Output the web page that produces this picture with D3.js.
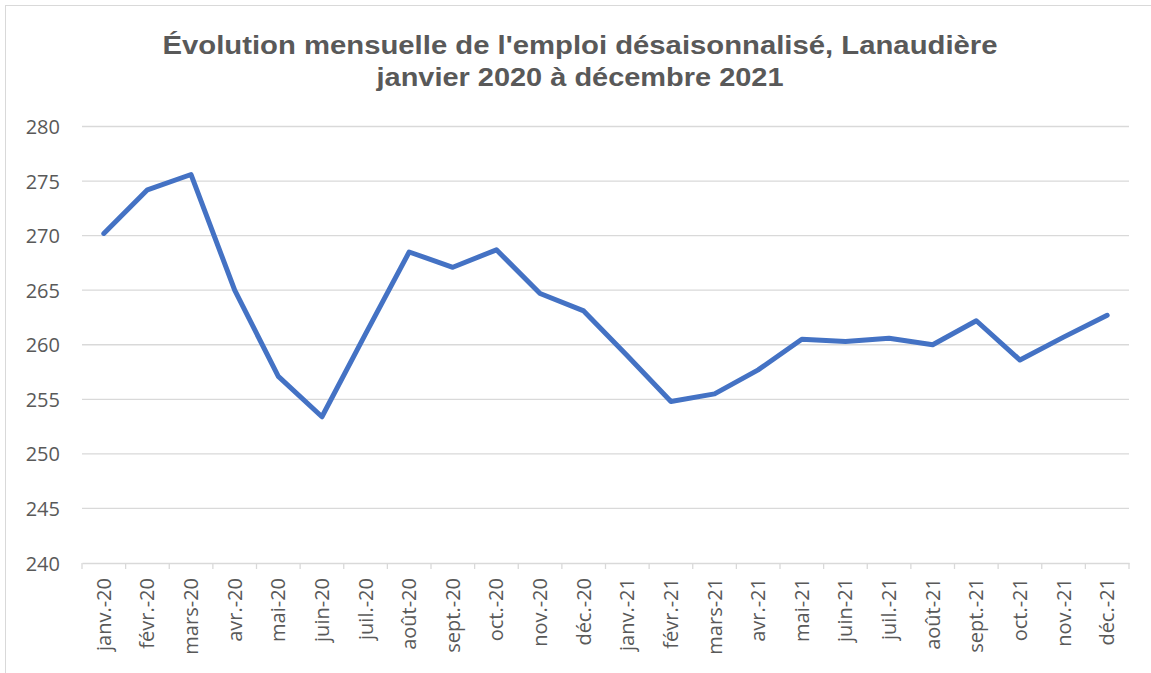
<!DOCTYPE html>
<html><head><meta charset="utf-8">
<script src="https://cdn.jsdelivr.net/npm/d3@7"></script>
<style>body{margin:0;background:#fff}svg{display:block}</style>
</head><body>
<svg id="c" width="1151" height="673"></svg>
<script>
const categories = ["janv.-20","févr.-20","mars-20","avr.-20","mai-20","juin-20","juil.-20","août-20","sept.-20","oct.-20","nov.-20","déc.-20",
"janv.-21","févr.-21","mars-21","avr.-21","mai-21","juin-21","juil.-21","août-21","sept.-21","oct.-21","nov.-21","déc.-21"];
const emploi = [270.2,274.2,275.6,265.0,257.1,253.4,261.0,268.5,267.1,268.7,264.7,263.1,
259.0,254.8,255.5,257.7,260.5,260.3,260.6,260.0,262.2,258.6,260.7,262.7];
const yTicks = [240,245,250,255,260,265,270,275,280];
const titleLines = ["Évolution mensuelle de l'emploi désaisonnalisé, Lanaudière","janvier 2020 à décembre 2021"];

const svg = d3.select("#c");
const pLeft = 82, pRight = 1129, pTop = 126.5, pBottom = 563;
const txt = "#595959", grid = "#d9d9d9";

svg.append("rect").attr("x",5.5).attr("y",5.5).attr("width",1160).attr("height",700)
  .attr("fill","none").attr("stroke",grid).attr("stroke-width",1);

const x = d3.scaleBand().domain(categories).range([pLeft,pRight]).padding(0);
const y = d3.scaleLinear().domain([240,280]).range([pBottom,pTop]);

// gridlines
svg.append("g").selectAll("line").data(yTicks.filter(d=>d>240)).join("line")
  .attr("x1",pLeft).attr("x2",pRight).attr("y1",d=>y(d)).attr("y2",d=>y(d))
  .attr("stroke",grid).attr("stroke-width",1.3);

// y axis labels
const yAxis = d3.axisLeft(y).tickValues(yTicks).tickSize(0).tickPadding(0);
const gy = svg.append("g").attr("transform",`translate(${pLeft-22},0)`).call(yAxis);
gy.select(".domain").remove();
gy.selectAll("text").attr("fill",txt).style("font-family","'Open Sans', sans-serif").style("font-size","20px").attr("dy","0.35em");

// x axis
const xAxis = d3.axisBottom(x).tickSize(0).tickPadding(0);
const gx = svg.append("g").attr("transform",`translate(0,${pBottom})`).call(xAxis);
gx.select(".domain").attr("stroke",grid).attr("stroke-width",1.3);
gx.selectAll(".tick line").remove();
gx.selectAll(".tick text").attr("fill",txt).style("font-family","'Open Sans', sans-serif").style("font-size","20px")
  .attr("text-anchor","end").attr("transform","rotate(-90)").attr("x",-15).attr("y",0).attr("dy","0.35em");
// boundary ticks
const bounds = categories.map(c=>x(c)).concat([pRight]);
svg.append("g").selectAll("line").data(bounds).join("line")
  .attr("x1",d=>d).attr("x2",d=>d).attr("y1",pBottom).attr("y2",pBottom+6)
  .attr("stroke",grid).attr("stroke-width",1.3);

// line
const line = d3.line().x((d,i)=>x(categories[i])+x.bandwidth()/2).y(d=>y(d));
svg.append("path").datum(emploi).attr("d",line).attr("fill","none")
  .attr("stroke","#4472C4").attr("stroke-width",5).attr("stroke-linejoin","round").attr("stroke-linecap","round");

// title
const titleWidths = [835, 407];
svg.append("g").selectAll("text").data(titleLines).join("text")
  .attr("x",580).attr("y",(d,i)=>54+i*32).attr("text-anchor","middle")
  .attr("textLength",(d,i)=>titleWidths[i]).attr("lengthAdjust","spacingAndGlyphs")
  .attr("fill",txt).style("font-family","'Liberation Sans', Arial, sans-serif").style("font-weight","bold").style("font-size","26px")
  .text(d=>d);
</script>
</body></html>
